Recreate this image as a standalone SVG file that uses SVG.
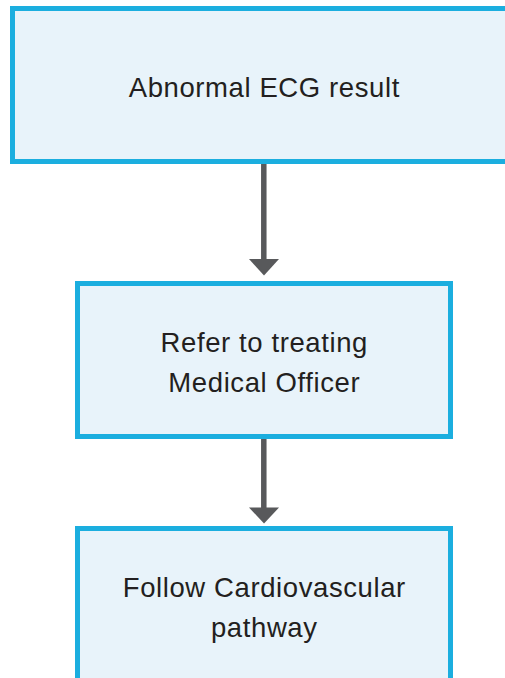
<svg xmlns="http://www.w3.org/2000/svg" width="505" height="678" viewBox="0 0 505 678">
<style>
.box{fill:#E8F3FA;stroke:#1BAEDF;stroke-width:5}
.lbl{font-family:"Liberation Sans",Arial,sans-serif;font-size:27.5px;letter-spacing:0.6px;fill:#231F20;text-anchor:middle}
.shaft{stroke:#58595B;stroke-width:5.5;fill:none}
.head{fill:#58595B}
</style>
<rect width="505" height="678" fill="#FFFFFF"/>
<g id="connectors">
<line class="shaft" x1="263.8" y1="164" x2="263.8" y2="260"/>
<polygon class="head" points="249,259 279,259 264,275.5"/>
<line class="shaft" x1="263.8" y1="439" x2="263.8" y2="509"/>
<polygon class="head" points="249,507.5 279,507.5 264,523.5"/>
</g>
<g id="node-abnormal-ecg">
<rect class="box" x="12.5" y="8.5" width="500" height="153"/>
<text class="lbl" x="264.3" y="97">Abnormal ECG result</text>
</g>
<g id="node-refer">
<rect class="box" x="77.5" y="283.5" width="373" height="153"/>
<text class="lbl" x="264.3" y="351.5">Refer to treating</text>
<text class="lbl" x="264.3" y="391.5">Medical Officer</text>
</g>
<g id="node-follow">
<rect class="box" x="77.5" y="528.5" width="373" height="200"/>
<text class="lbl" x="264.3" y="596.5">Follow Cardiovascular</text>
<text class="lbl" x="264.3" y="636.5">pathway</text>
</g>
</svg>
